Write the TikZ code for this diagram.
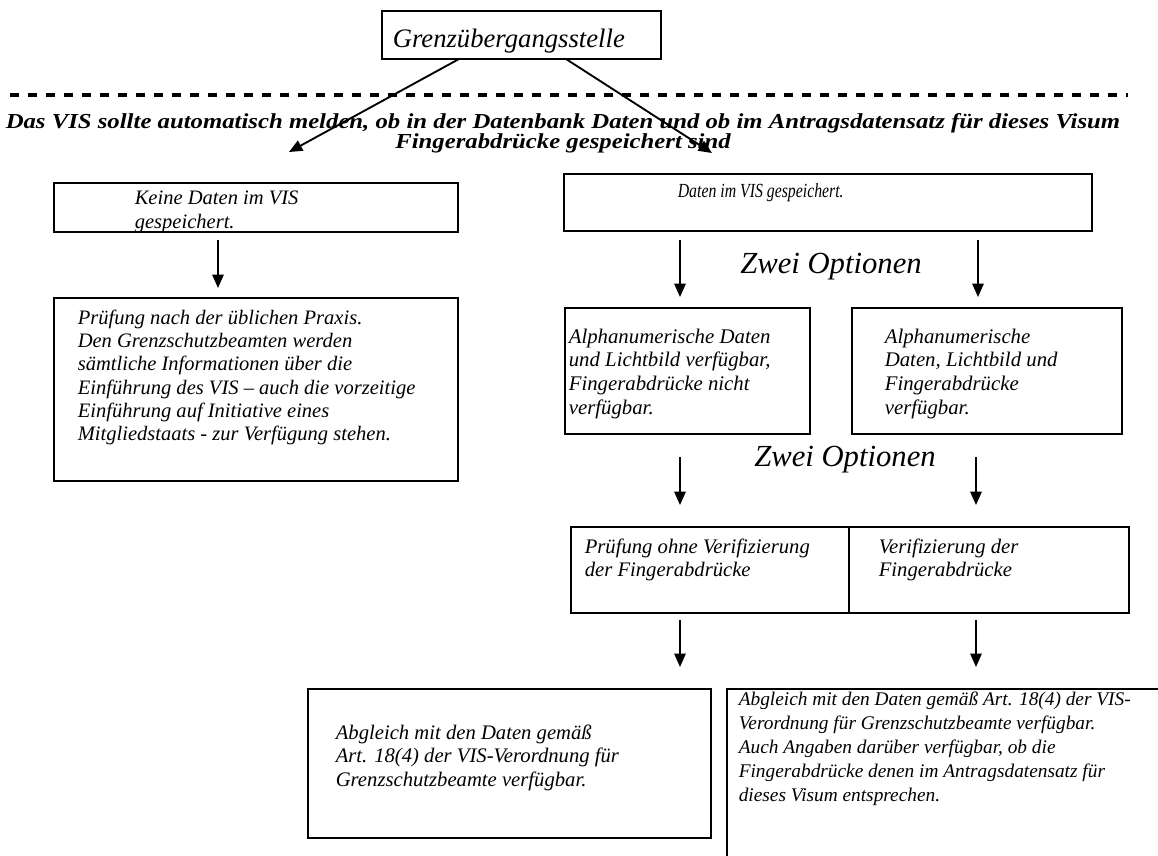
\documentclass[tikz,border=0pt]{standalone}
\usepackage{fontspec}
\setmainfont{Liberation Serif}
\usetikzlibrary{arrows.meta,fit}

\begin{document}
\begin{tikzpicture}
[x=0.75pt,y=-0.75pt,line width=1.2pt,
 box/.style={draw,rectangle,inner sep=0pt},
 txt/.style={inner sep=0pt,align=left,anchor=north west,font=\fontsize{15.5}{17.6}\selectfont\itshape},
 pfeil/.style={-{Triangle[length=10pt,width=8.5pt]},line width=1.4pt}]
\useasboundingbox (0,0) rectangle (1158,856);
\clip (0,0) rectangle (1158,856);
% Kaesten
\node[box,fit={(382,11) (661,59)}] (g) {};
\node[box,fit={(54,183) (458,232)}] (k) {};
\node[box,fit={(54,298) (458,481)}] (p) {};
\node[box,fit={(564,174) (1092,231)}] (d) {};
\node[box,fit={(565,308) (810,434)}] (al) {};
\node[box,fit={(852,308) (1122,434)}] (ar) {};
\node[box,fit={(571,527) (849,613)}] (ol) {};
\node[box,fit={(849,527) (1129,613)}] (or) {};
\node[box,fit={(308,689) (711,838)}] (bl) {};
\node[box,fit={(727,689) (1200,900)}] (br) {};
% Texte
\node[inner sep=0pt,anchor=base west,font=\fontsize{20}{24}\selectfont\itshape] (gt) at (392,48) {Grenzübergangsstelle};
\node[inner sep=0pt,align=center,font=\fontsize{16}{15}\selectfont\bfseries\itshape\addfontfeature{FakeStretch=1.16}] (vis) at (563,133)
 {Das VIS sollte automatisch melden, ob in der Datenbank Daten und ob im Antragsdatensatz für dieses Visum\\Fingerabdrücke gespeichert sind};
\node[txt,font=\fontsize{15.4}{18}\selectfont\itshape] (kt) at (134,190) {Keine Daten im VIS\\gespeichert.};
\node[txt,font=\fontsize{15.4}{17.5}\selectfont\itshape] (pt) at (77,309) {Prüfung nach der üblichen Praxis.\\Den Grenzschutzbeamten werden\\sämtliche Informationen über die\\Einführung des VIS – auch die vorzeitige\\Einführung auf Initiative eines\\Mitgliedstaats - zur Verfügung stehen.};
\node[txt,font=\fontsize{15}{17}\selectfont\itshape\addfontfeature{FakeStretch=0.79}] (dt) at (677,183) {Daten im VIS gespeichert.};
\node[inner sep=0pt,font=\fontsize{23}{27}\selectfont\itshape] (z1) at (831,267) {Zwei Optionen};
\node[txt,font=\fontsize{15.6}{17.8}\selectfont\itshape] (alt) at (568,328) {Alphanumerische Daten\\und Lichtbild verfügbar,\\Fingerabdrücke nicht\\verfügbar.};
\node[txt,font=\fontsize{15.6}{17.8}\selectfont\itshape] (art) at (884,328) {Alphanumerische\\Daten, Lichtbild und\\Fingerabdrücke\\verfügbar.};
\node[inner sep=0pt,font=\fontsize{23}{27}\selectfont\itshape] (z2) at (845,460) {Zwei Optionen};
\node[txt,font=\fontsize{15.5}{17.3}\selectfont\itshape] (olt) at (584,538) {Prüfung ohne Verifizierung\\der Fingerabdrücke};
\node[txt,font=\fontsize{15.5}{17.3}\selectfont\itshape] (ort) at (878,538) {Verifizierung der\\Fingerabdrücke};
\node[txt] (blt) at (335,724) {Abgleich mit den Daten gemäß\\Art. 18(4) der VIS-Verordnung für\\Grenzschutzbeamte verfügbar.};
\node[txt,font=\fontsize{14.5}{18}\selectfont\itshape] (brt) at (738,691) {Abgleich mit den Daten gemäß Art. 18(4) der VIS-\\Verordnung für Grenzschutzbeamte verfügbar.\\Auch Angaben darüber verfügbar, ob die\\Fingerabdrücke denen im Antragsdatensatz für\\dieses Visum entsprechen.};
% Trennlinie
\coordinate (l1) at (10,95);
\coordinate (l2) at (1128,95);
\draw[line width=2.6pt,dash pattern=on 7pt off 6.5pt] (l1) -- (l2);
% Pfeile
\coordinate (s1) at (459,59);  \coordinate (e1) at (289,152);
\coordinate (s2) at (566,59);  \coordinate (e2) at (712,153);
\coordinate (s3) at (218,240); \coordinate (e3) at (218,288);
\coordinate (s4) at (680,240); \coordinate (e4) at (680,297);
\coordinate (s5) at (978,240); \coordinate (e5) at (978,297);
\coordinate (s6) at (680,457); \coordinate (e6) at (680,505);
\coordinate (s7) at (976,457); \coordinate (e7) at (976,505);
\coordinate (s8) at (680,620); \coordinate (e8) at (680,667);
\coordinate (s9) at (976,620); \coordinate (e9) at (976,667);
\foreach \from/\to in {s1/e1,s2/e2,s3/e3,s4/e4,s5/e5,s6/e6,s7/e7,s8/e8,s9/e9}
\draw[pfeil] (\from) -- (\to);
\end{tikzpicture}
\end{document}
